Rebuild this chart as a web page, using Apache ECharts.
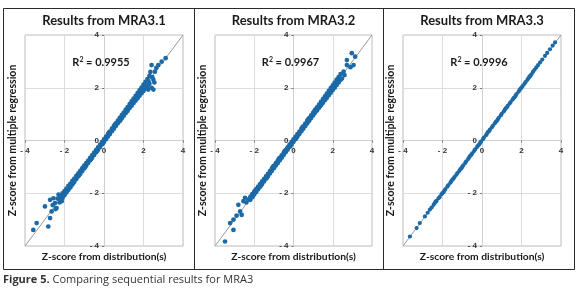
<!DOCTYPE html>
<html><head><meta charset="utf-8">
<script src="https://cdn.jsdelivr.net/npm/echarts@6/dist/echarts.min.js"></script>
<style>html,body{margin:0;padding:0;background:#fff}#c{width:580px;height:292px}</style>
</head><body><div id="c"></div>
<script>
const panelTitles = ['Results from MRA3.1', 'Results from MRA3.2', 'Results from MRA3.3'];
const rSquared = ['0.9955', '0.9967', '0.9996'];
const tickValues = [-4, -2, 0, 2, 4];
const xTitle = 'Z-score from distribution(s)';
const yTitle = 'Z-score from multiple regression';
const caption = 'Comparing sequential results for MRA3';
const diagonal = [[-4, -4], [4, 4]];

const mra31 = [
[-3.58,-3.39],[-3.41,-3.13],[-2.82,-3.26],[-2.73,-2.94],[-2.99,-2.5],[-2.73,-2.25],[-2.56,-2.19],[-2.65,-2.69],
[-2.4,-2.56],[-2.48,-2.37],[-2.14,-2.3],[-2.6,-2.45],[-2.35,-2.2],[-2.25,-2.35],[-2.3,-2.05],[-2.45,-2.6],
[-2.2,-2.12],[-2.2,-2.28],[-2.1,-2.0],[-2.1,-2.18],[-2.0,-1.92],[-2.0,-2.08],[-1.9,-1.82],[-1.9,-1.97],
[-1.8,-1.72],[-1.8,-1.87],[-1.7,-1.63],[-1.7,-1.77],[-1.6,-1.53],[-1.6,-1.67],[-1.5,-1.44],[-1.5,-1.56],
[-1.4,-1.34],[-1.4,-1.46],[-1.3,-1.25],[-1.3,-1.36],[-1.2,-1.15],[-1.2,-1.26],[-1.1,-1.05],[-1.1,-1.16],
[-1.0,-0.95],[-1.0,-1.06],[-0.9,-0.86],[-0.9,-0.95],[-0.8,-0.76],[-0.8,-0.85],[-0.7,-0.66],[-0.7,-0.75],
[-0.6,-0.56],[-0.6,-0.65],[-0.5,-0.46],[-0.5,-0.55],[-0.4,-0.36],[-0.4,-0.45],[-0.3,-0.26],[-0.3,-0.35],
[-0.2,-0.16],[-0.2,-0.25],[-0.1,-0.06],[-0.1,-0.15],[0.0,0.04],[0.0,-0.05],[0.1,0.14],[0.1,0.05],
[0.2,0.24],[0.2,0.15],[0.3,0.34],[0.3,0.25],[0.4,0.45],[0.4,0.35],[0.5,0.55],[0.5,0.45],
[0.6,0.65],[0.6,0.55],[0.7,0.75],[0.7,0.65],[0.8,0.86],[0.8,0.74],[0.9,0.96],[0.9,0.84],
[1.0,1.06],[1.0,0.94],[1.1,1.17],[1.1,1.04],[1.2,1.27],[1.2,1.13],[1.3,1.38],[1.3,1.23],
[1.4,1.48],[1.4,1.32],[1.5,1.59],[1.5,1.42],[1.6,1.69],[1.6,1.51],[1.7,1.8],[1.7,1.6],
[1.8,1.9],[1.8,1.7],[1.9,2.01],[1.9,1.79],[2.0,2.12],[2.0,1.88],[2.1,2.22],[2.1,1.97],
[2.2,2.33],[2.2,2.06],[2.3,2.45],[2.3,2.15],[2.24,1.93],[2.41,2.0],[2.5,1.93],[2.5,2.3],
[2.58,2.61],[2.41,2.86],[2.75,2.86],[2.92,2.99],[3.12,3.12],[2.35,2.6],[2.45,2.4],[2.65,2.75],[2.55,2.2],
[-1.95,-1.9],[-1.75,-1.8],[-1.55,-1.6],[-1.25,-1.3],[-0.95,-1.0],[-0.65,-0.7],[-0.35,-0.4],[-0.05,-0.1],
[0.25,0.3],[0.55,0.6],[0.85,0.8],[1.15,1.1],[1.45,1.5],[1.75,1.7],[2.05,2.05],[2.25,2.25]
];

const mra32 = [
[-3.49,-3.83],[-3.23,-3.13],[-3.06,-3.39],[-3.06,-3.0],[-2.81,-2.44],[-2.72,-2.69],[-2.64,-2.82],[-2.55,-2.3],
[-2.47,-2.17],[-2.3,-2.24],[-2.13,-2.11],[-2.9,-2.85],[-2.4,-2.35],
[-2.2,-2.14],[-2.2,-2.25],[-2.1,-2.03],[-2.1,-2.15],[-2.0,-1.94],[-2.0,-2.05],[-1.9,-1.84],[-1.9,-1.95],
[-1.8,-1.75],[-1.8,-1.85],[-1.7,-1.65],[-1.7,-1.75],[-1.6,-1.55],[-1.6,-1.65],[-1.5,-1.46],[-1.5,-1.55],
[-1.4,-1.36],[-1.4,-1.45],[-1.3,-1.26],[-1.3,-1.35],[-1.2,-1.16],[-1.2,-1.25],[-1.1,-1.06],[-1.1,-1.15],
[-1.0,-0.96],[-1.0,-1.05],[-0.9,-0.86],[-0.9,-0.95],[-0.8,-0.76],[-0.8,-0.85],[-0.7,-0.66],[-0.7,-0.75],
[-0.6,-0.56],[-0.6,-0.65],[-0.5,-0.46],[-0.5,-0.55],[-0.4,-0.36],[-0.4,-0.45],[-0.3,-0.26],[-0.3,-0.35],
[-0.2,-0.16],[-0.2,-0.25],[-0.1,-0.06],[-0.1,-0.15],[0.0,0.04],[0.0,-0.05],[0.1,0.14],[0.1,0.05],
[0.2,0.24],[0.2,0.15],[0.3,0.34],[0.3,0.25],[0.4,0.44],[0.4,0.35],[0.5,0.54],[0.5,0.45],
[0.6,0.64],[0.6,0.55],[0.7,0.75],[0.7,0.65],[0.8,0.85],[0.8,0.75],[0.9,0.95],[0.9,0.85],
[1.0,1.05],[1.0,0.95],[1.1,1.16],[1.1,1.05],[1.2,1.26],[1.2,1.14],[1.3,1.36],[1.3,1.24],
[1.4,1.47],[1.4,1.34],[1.5,1.57],[1.5,1.43],[1.6,1.67],[1.6,1.53],[1.7,1.78],[1.7,1.62],
[1.8,1.88],[1.8,1.72],[1.9,1.99],[1.9,1.81],[2.0,2.09],[2.0,1.91],[2.1,2.2],[2.1,2.0],
[2.2,2.31],[2.2,2.1],[2.3,2.4],[2.3,2.2],[2.4,2.3],[2.47,2.35],[2.6,2.48],[2.55,2.61],
[2.72,2.86],[2.9,2.78],[3.06,2.86],[2.72,3.05],[3.14,3.18],[2.97,3.31],[2.4,2.52],
[-1.95,-1.9],[-1.65,-1.7],[-1.35,-1.4],[-1.05,-1.0],[-0.75,-0.7],[-0.45,-0.4],[-0.15,-0.2],
[0.15,0.1],[0.45,0.5],[0.75,0.8],[1.05,1.1],[1.35,1.3],[1.65,1.6],[1.95,2.0],[2.25,2.25]
];

const mra33 = [
[-3.65,-3.64],[-3.31,-3.32],[-3.15,-3.13],[-2.89,-2.88],[-2.75,-2.74],[-2.64,-2.62],[-2.55,-2.54],
[-2.45,-2.44],[-2.4,-2.38],[-2.3,-2.29],[-2.2,-2.19],[-2.15,-2.15],[-2.05,-2.04],[-2.0,-1.99],[-1.9,-1.9],
[-1.85,-1.84],[-1.75,-1.74],[-1.7,-1.69],[-1.6,-1.6],[-1.55,-1.54],[-1.45,-1.45],[-1.4,-1.39],[-1.3,-1.3],
[-1.25,-1.24],[-1.15,-1.15],[-1.1,-1.09],[-1.0,-1.0],[-0.95,-0.94],[-0.85,-0.85],[-0.8,-0.79],[-0.7,-0.7],
[-0.65,-0.64],[-0.55,-0.55],[-0.5,-0.49],[-0.4,-0.4],[-0.35,-0.34],[-0.25,-0.25],[-0.2,-0.19],[-0.1,-0.1],
[-0.05,-0.04],[0.05,0.05],[0.1,0.11],[0.2,0.2],[0.25,0.26],[0.35,0.35],[0.4,0.41],[0.5,0.5],
[0.55,0.56],[0.65,0.65],[0.7,0.71],[0.8,0.8],[0.85,0.86],[0.95,0.95],[1.0,1.01],[1.1,1.1],
[1.15,1.16],[1.25,1.25],[1.3,1.31],[1.4,1.4],[1.45,1.46],[1.55,1.55],[1.6,1.61],[1.7,1.7],
[1.75,1.76],[1.85,1.85],[1.9,1.91],[2.0,2.0],[2.05,2.06],[2.15,2.15],[2.2,2.21],[2.3,2.3],
[2.35,2.36],[2.45,2.45],[2.5,2.51],[2.58,2.6],[2.66,2.68],[2.75,2.77],[2.84,2.86],[2.94,2.96],
[3.05,3.07],[3.19,3.21],[3.3,3.32],[3.44,3.46],[3.58,3.6],[3.7,3.72],
[-2.35,-2.32],[-1.95,-1.96],[-1.5,-1.48],[-1.05,-1.06],[-0.6,-0.58],[-0.15,-0.16],[0.3,0.32],[0.75,0.74],
[1.2,1.22],[1.65,1.64],[1.95,1.97],[2.4,2.42]
];
const seriesData = [mra31, mra32, mra33];

const plotLeft = [25, 215, 403];
const plotWidth = [158, 157, 158];
const plotTop = 35, plotHeight = 211;
const dot = '#1b69a6';
const labelFont = 'Liberation Sans';
const titleFont = 'Lato';

const grids = [], xAxes = [], yAxes = [], series = [], titles = [], graphics = [];
const fmt = v => v < 0 ? '- ' + Math.abs(v) : String(v);
for (let i = 0; i < 3; i++) {
  grids.push({left: plotLeft[i], top: plotTop, width: plotWidth[i], height: plotHeight,
    show: true, borderColor: '#bdbdbd', borderWidth: 1});
  xAxes.push({type: 'value', gridIndex: i, min: -4, max: 4, interval: 2, position: 'bottom', offset: -plotHeight / 2,
    axisLine: {onZero: false, lineStyle: {color: '#cfcfcf'}},
    axisTick: {show: true, length: 2, lineStyle: {color: '#777'}},
    axisLabel: {formatter: fmt, fontSize: 8, fontWeight: 'bold', color: '#333', margin: 6, fontFamily: labelFont},
    splitLine: {lineStyle: {color: '#dcdcdc'}}});
  yAxes.push({type: 'value', gridIndex: i, min: -4, max: 4, interval: 2, position: 'left', offset: -plotWidth[i] / 2,
    axisLine: {onZero: false, lineStyle: {color: '#cfcfcf'}},
    axisTick: {show: true, length: 2, lineStyle: {color: '#777'}},
    axisLabel: {formatter: fmt, fontSize: 8, fontWeight: 'bold', color: '#333', margin: 5, fontFamily: labelFont},
    splitLine: {lineStyle: {color: '#dcdcdc'}}});
  series.push({type: 'line', xAxisIndex: i, yAxisIndex: i, data: diagonal, symbol: 'none',
    lineStyle: {color: '#999', width: 1}, z: 2, silent: true, animation: false});
  series.push({type: 'scatter', xAxisIndex: i, yAxisIndex: i, data: seriesData[i], symbolSize: i === 2 ? 4.2 : 4.7,
    itemStyle: {color: dot, opacity: 1}, z: 3, animation: false});
  const cx = plotLeft[i] + plotWidth[i] / 2;
  titles.push({text: panelTitles[i], left: cx, top: 14, textAlign: 'center', padding: 0,
    textStyle: {fontFamily: titleFont, fontSize: 13, fontWeight: 'bold', color: '#1a1a1a'}});
  titles.push({text: 'R{s|2} = ' + rSquared[i], left: cx - 3, top: 56, textAlign: 'center', padding: 0,
    textStyle: {fontFamily: titleFont, fontSize: 11, fontWeight: 'bold', color: '#1a1a1a',
      rich: {s: {fontFamily: titleFont, fontSize: 7, fontWeight: 'bold', color: '#1a1a1a', verticalAlign: 'top', padding: [0, 0, 5, 0]}}}});
  titles.push({text: xTitle, left: cx, top: 252, textAlign: 'center', padding: 0,
    textStyle: {fontFamily: titleFont, fontSize: 10.3, fontWeight: 'bold', color: '#1a1a1a'}});
  graphics.push({type: 'text', x: plotLeft[i] - 12, y: plotTop + plotHeight / 2, rotation: Math.PI / 2,
    style: {text: yTitle, font: 'bold 10.5px ' + titleFont, fill: '#1a1a1a',
      textAlign: 'center', textVerticalAlign: 'middle', align: 'center', verticalAlign: 'middle'}});
}
titles.push({text: '{b|Figure 5.} ' + caption, left: 3, top: 274, padding: 0,
  textStyle: {fontFamily: 'Open Sans', fontSize: 11, fontWeight: 'normal', color: '#333',
    rich: {b: {fontFamily: 'Open Sans', fontSize: 11, fontWeight: 'bold', color: '#333'}}}});
graphics.push({type: 'rect', shape: {x: 3.5, y: 8.5, width: 571, height: 261},
  style: {fill: 'none', stroke: '#2a2a2a', lineWidth: 1}, z: -1});
graphics.push({type: 'line', shape: {x1: 194.5, y1: 8.5, x2: 194.5, y2: 269.5}, style: {stroke: '#2a2a2a', lineWidth: 1}});
graphics.push({type: 'line', shape: {x1: 383.5, y1: 8.5, x2: 383.5, y2: 269.5}, style: {stroke: '#2a2a2a', lineWidth: 1}});

const chart = echarts.init(document.getElementById('c'), null, {renderer: 'canvas'});
chart.setOption({animation: false, title: titles, grid: grids, xAxis: xAxes, yAxis: yAxes, series: series, graphic: graphics});
</script></body></html>
